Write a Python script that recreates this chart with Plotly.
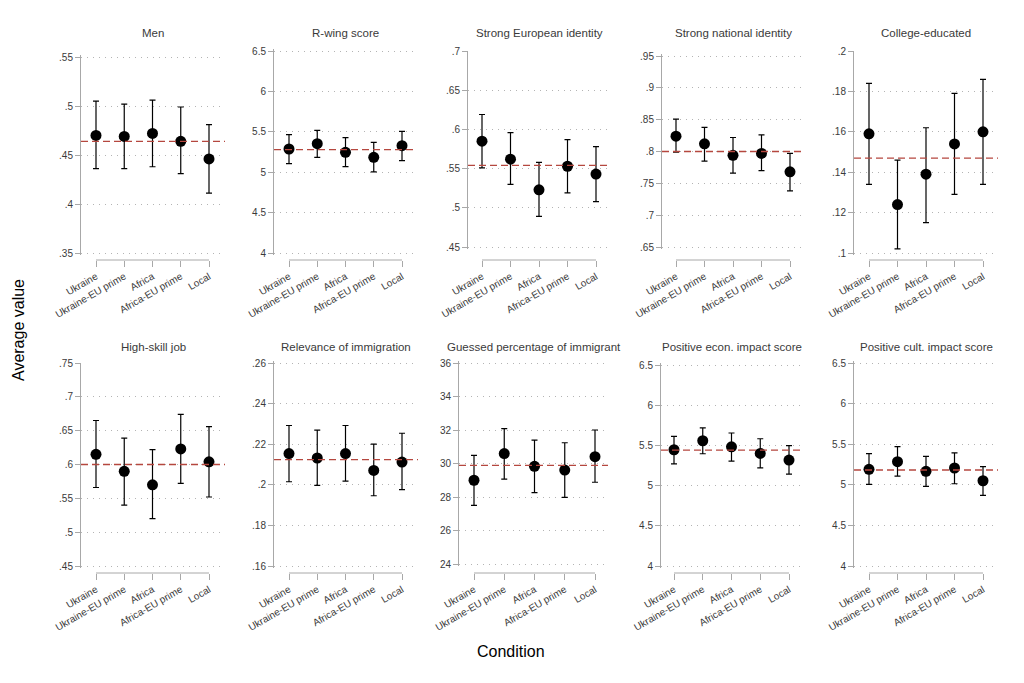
import plotly.graph_objects as go

# ---------------- data ----------------
conditions = ["Ukraine", "Ukraine-EU prime", "Africa", "Africa-EU prime", "Local"]

titles = ["Men", "R-wing score", "Strong European identity", "Strong national identity",
          "College-educated", "High-skill job", "Relevance of immigration",
          "Guessed percentage of immigrant", "Positive econ. impact score",
          "Positive cult. impact score"]

men_est = [0.470, 0.469, 0.472, 0.464, 0.446]
men_lo = [0.436, 0.436, 0.438, 0.431, 0.411]
men_hi = [0.505, 0.502, 0.506, 0.499, 0.481]
men_ref = 0.464

rwing_est = [5.287, 5.353, 5.246, 5.184, 5.328]
rwing_lo = [5.106, 5.184, 5.069, 5.003, 5.143]
rwing_hi = [5.464, 5.517, 5.427, 5.369, 5.505]
rwing_ref = 5.279

euro_est = [0.585, 0.562, 0.523, 0.553, 0.543]
euro_lo = [0.551, 0.530, 0.489, 0.519, 0.508]
euro_hi = [0.619, 0.596, 0.558, 0.587, 0.578]
euro_ref = 0.554

nat_est = [0.824, 0.812, 0.794, 0.797, 0.768]
nat_lo = [0.799, 0.785, 0.766, 0.770, 0.738]
nat_hi = [0.851, 0.838, 0.822, 0.826, 0.797]
nat_ref = 0.800

college_est = [0.159, 0.124, 0.139, 0.154, 0.160]
college_lo = [0.134, 0.102, 0.115, 0.129, 0.134]
college_hi = [0.184, 0.146, 0.162, 0.179, 0.186]
college_ref = 0.147

skill_est = [0.615, 0.590, 0.570, 0.623, 0.604]
skill_lo = [0.566, 0.540, 0.520, 0.572, 0.552]
skill_hi = [0.665, 0.639, 0.622, 0.674, 0.656]
skill_ref = 0.600

relev_est = [0.2154, 0.2132, 0.2154, 0.2071, 0.2112]
relev_lo = [0.2015, 0.1997, 0.2018, 0.1946, 0.1976]
relev_hi = [0.2292, 0.2269, 0.2292, 0.2200, 0.2254]
relev_ref = 0.2124

guess_est = [29.00, 30.59, 29.83, 29.61, 30.41]
guess_lo = [27.50, 29.07, 28.26, 27.98, 28.88]
guess_hi = [30.49, 32.08, 31.40, 31.24, 32.00]
guess_ref = 29.89

econ_est = [5.446, 5.558, 5.483, 5.400, 5.317]
econ_lo = [5.271, 5.396, 5.304, 5.221, 5.142]
econ_hi = [5.613, 5.717, 5.654, 5.583, 5.496]
econ_ref = 5.442

cult_est = [5.190, 5.285, 5.166, 5.207, 5.050]
cult_lo = [5.005, 5.108, 4.980, 5.013, 4.869]
cult_hi = [5.384, 5.470, 5.350, 5.392, 5.223]
cult_ref = 5.182

estimates = [men_est, rwing_est, euro_est, nat_est, college_est,
             skill_est, relev_est, guess_est, econ_est, cult_est]
lowers = [men_lo, rwing_lo, euro_lo, nat_lo, college_lo,
          skill_lo, relev_lo, guess_lo, econ_lo, cult_lo]
uppers = [men_hi, rwing_hi, euro_hi, nat_hi, college_hi,
          skill_hi, relev_hi, guess_hi, econ_hi, cult_hi]
refs = [men_ref, rwing_ref, euro_ref, nat_ref, college_ref,
        skill_ref, relev_ref, guess_ref, econ_ref, cult_ref]

ytick_vals = [
    [0.35, 0.4, 0.45, 0.5, 0.55],
    [4, 4.5, 5, 5.5, 6, 6.5],
    [0.45, 0.5, 0.55, 0.6, 0.65, 0.7],
    [0.65, 0.7, 0.75, 0.8, 0.85, 0.9, 0.95],
    [0.1, 0.12, 0.14, 0.16, 0.18, 0.2],
    [0.45, 0.5, 0.55, 0.6, 0.65, 0.7, 0.75],
    [0.16, 0.18, 0.2, 0.22, 0.24, 0.26],
    [24, 26, 28, 30, 32, 34, 36],
    [4, 4.5, 5, 5.5, 6, 6.5],
    [4, 4.5, 5, 5.5, 6, 6.5],
]
ytick_text = [
    [".35", ".4", ".45", ".5", ".55"],
    ["4", "4.5", "5", "5.5", "6", "6.5"],
    [".45", ".5", ".55", ".6", ".65", ".7"],
    [".65", ".7", ".75", ".8", ".85", ".9", ".95"],
    [".1", ".12", ".14", ".16", ".18", ".2"],
    [".45", ".5", ".55", ".6", ".65", ".7", ".75"],
    [".16", ".18", ".2", ".22", ".24", ".26"],
    ["24", "26", "28", "30", "32", "34", "36"],
    ["4", "4.5", "5", "5.5", "6", "6.5"],
    ["4", "4.5", "5", "5.5", "6", "6.5"],
]

# ---------------- layout geometry (pixels) ----------------
W, H = 1024, 683
left_px = [81, 274, 468, 662, 854, 81, 274, 459, 661, 854]
right_px = [225, 417, 611, 804, 998, 225, 418, 608, 803, 998]
first_px = [96, 289, 482, 676, 869, 96, 289, 474, 674, 869]
last_px = [209, 402, 596, 790, 983, 209, 402, 595, 789, 983]
top_px = [57, 51, 51, 56, 51, 363, 363, 363, 365, 363]
bot_px = [253, 253, 247, 247, 253, 566, 566, 564, 566, 566]
top_grid = [True, True, False, True, False, False, True, True, True, True]
xaxis_line_px = [260, 573]
title_px = [33, 347]

GRID = "#b4b4b4"
AXIS = "#a8a8a8"
TXT = "#3a3a3a"
REF = "#b5473f"
FONT = "Liberation Sans, Arial, sans-serif"

fig = go.Figure()
layout_axes = {}
shapes = []
annotations = []

for i in range(10):
    n = i + 1
    xs = "" if n == 1 else str(n)
    row = 0 if i < 5 else 1
    fig.add_trace(go.Scatter(
        x=conditions, y=estimates[i], mode="markers",
        marker=dict(color="black", size=11),
        error_y=dict(type="data", symmetric=False,
                     array=[h - e for h, e in zip(uppers[i], estimates[i])],
                     arrayminus=[e - l for e, l in zip(estimates[i], lowers[i])],
                     color="black", thickness=1.2, width=3),
        xaxis="x" + xs, yaxis="y" + xs, showlegend=False,
    ))

    spacing = (last_px[i] - first_px[i]) / (len(conditions) - 1)
    xr = [-(first_px[i] - left_px[i]) / spacing,
          (len(conditions) - 1) + (right_px[i] - last_px[i]) / spacing]

    yv = ytick_vals[i]
    lo, hi = yv[0], yv[-1]
    pxu = (bot_px[i] - top_px[i]) / (hi - lo)
    pad = 1.6 / pxu
    ylo = lo - pad
    yhi = hi + (pad if top_grid[i] else 0)
    ytop = top_px[i] - (1.6 if top_grid[i] else 0)
    ybot = bot_px[i] + 1.6

    xline_paper = 1 - xaxis_line_px[row] / H
    layout_axes["xaxis" + xs] = dict(
        domain=[left_px[i] / W, right_px[i] / W],
        range=xr, type="category", anchor="free", position=xline_paper,
        automargin=False,
        showgrid=False, zeroline=False, showline=False,
        ticks="outside", ticklen=6, tickcolor=AXIS, tickwidth=1,
        tickangle=-30, tickfont=dict(size=10, color=TXT, family=FONT),
        tickvals=conditions, ticktext=conditions,
    )
    layout_axes["yaxis" + xs] = dict(
        domain=[1 - ybot / H, 1 - ytop / H],
        range=[ylo, yhi], anchor="x" + xs, automargin=False,
        showgrid=True, gridcolor=GRID, griddash="1px,5px", gridwidth=1,
        zeroline=False, showline=True, linecolor=AXIS, linewidth=1,
        ticks="outside", ticklen=5, tickcolor=AXIS,
        tickvals=yv, ticktext=ytick_text[i],
        tickfont=dict(size=10, color=TXT, family=FONT),
    )
    # x-axis line spanning from first to last category
    shapes.append(dict(type="line", xref="x" + xs, yref="paper",
                       x0=conditions[0], x1=conditions[-1],
                       y0=xline_paper, y1=xline_paper,
                       line=dict(color=AXIS, width=1), layer="below"))
    # reference (overall mean) line
    shapes.append(dict(type="line", xref="x" + xs + " domain", yref="y" + xs,
                       x0=0, x1=1, y0=refs[i], y1=refs[i],
                       line=dict(color=REF, width=1.3, dash="7px,4px"), layer="above"))
    annotations.append(dict(text=titles[i], xref="paper", yref="paper",
                            x=(left_px[i] + right_px[i]) / 2 / W,
                            y=1 - title_px[row] / H,
                            xanchor="center", yanchor="middle", showarrow=False,
                            font=dict(size=11.5, color=TXT, family=FONT)))

annotations.append(dict(text="Average value", xref="paper", yref="paper",
                        x=18 / W, y=1 - 330 / H, textangle=-90,
                        xanchor="center", yanchor="middle", showarrow=False,
                        font=dict(size=16, color="black", family=FONT)))
annotations.append(dict(text="Condition", xref="paper", yref="paper",
                        x=511 / W, y=1 - 651 / H,
                        xanchor="center", yanchor="middle", showarrow=False,
                        font=dict(size=16, color="black", family=FONT)))

fig.update_layout(
    width=W, height=H, margin=dict(l=0, r=0, t=0, b=0, autoexpand=False),
    paper_bgcolor="white", plot_bgcolor="white",
    shapes=shapes, annotations=annotations,
    font=dict(family=FONT, color=TXT),
    hovermode=False,
    **layout_axes,
)

fig.write_html("out.html", config={"displayModeBar": False, "staticPlot": True},
               post_script="document.body.style.margin='0';document.body.style.padding='0';")
